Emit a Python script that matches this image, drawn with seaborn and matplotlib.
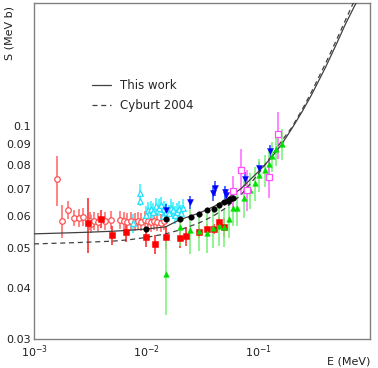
import matplotlib
matplotlib.use('Agg')
import matplotlib.pyplot as plt
import matplotlib.ticker as mticker
import numpy as np
import seaborn as sns

# curves
e_curve = [0.001, 0.002, 0.003, 0.005, 0.007, 0.01, 0.015, 0.02, 0.03, 0.04, 0.05,
           0.07, 0.1, 0.13, 0.16, 0.2, 0.25, 0.3, 0.4, 0.5, 0.6, 0.75, 0.8]
s_this_work = [0.0543, 0.0546, 0.0548, 0.0551, 0.0554, 0.0558, 0.0565, 0.0588, 0.0611,
               0.0633, 0.0655, 0.0700, 0.0770, 0.0832, 0.0895, 0.0983, 0.1088, 0.1190,
               0.139, 0.1584, 0.1770, 0.200, 0.210]
s_cyburt = [0.0513, 0.0516, 0.0518, 0.0521, 0.0525, 0.0532, 0.0543, 0.0555, 0.0578,
            0.0601, 0.0625, 0.0675, 0.0760, 0.0838, 0.0912, 0.0990, 0.110, 0.121,
            0.142, 0.162, 0.181, 0.207, 0.215]

# red open circles
e_oc = [0.00162, 0.00178, 0.00202, 0.00228, 0.00252, 0.00276, 0.00315, 0.0032, 0.00345,
        0.0037, 0.0043, 0.0049, 0.0058, 0.0064, 0.0068, 0.0074, 0.0079, 0.0085, 0.0091,
        0.0097, 0.0104, 0.011, 0.0117, 0.0125, 0.0135, 0.0146]
s_oc = [0.074, 0.0585, 0.0622, 0.0594, 0.0594, 0.0597, 0.0585, 0.0575, 0.0585, 0.0582,
        0.0585, 0.0588, 0.0588, 0.0585, 0.0582, 0.0585, 0.0582, 0.0585, 0.0582, 0.0588,
        0.0585, 0.058, 0.0585, 0.0582, 0.0578, 0.0585]
err_oc = [0.0105, 0.0055, 0.003, 0.0027, 0.003, 0.003, 0.003, 0.0028, 0.003, 0.003,
          0.003, 0.003, 0.003, 0.003, 0.003, 0.003, 0.003, 0.003, 0.003, 0.003, 0.003,
          0.003, 0.003, 0.003, 0.003, 0.003]

# red filled squares
e_sq = [0.00302, 0.00399, 0.005, 0.00662, 0.01, 0.012, 0.015, 0.02, 0.0226, 0.0298,
        0.0349, 0.0401, 0.0447, 0.05]
s_sq = [0.0576, 0.0591, 0.0539, 0.0548, 0.0533, 0.0512, 0.0534, 0.0531, 0.0536, 0.055,
        0.0558, 0.0559, 0.0581, 0.0563]
err_sq = [0.009, 0.003, 0.0028, 0.0028, 0.0028, 0.0028, 0.0035, 0.003, 0.0028, 0.002,
          0.0015, 0.0015, 0.0015, 0.003]

# cyan open triangles
e_cy = [0.0077, 0.0088, 0.0088, 0.0100, 0.0104, 0.0110, 0.0116, 0.0122, 0.0130, 0.0137,
        0.0142, 0.0146, 0.0152, 0.0160, 0.0168, 0.0175, 0.0182, 0.0190, 0.0198, 0.0206,
        0.0215]
s_cy = [0.0577, 0.0685, 0.0655, 0.0605, 0.0620, 0.0625, 0.0615, 0.0635, 0.0630, 0.0640,
        0.0600, 0.0625, 0.0615, 0.0610, 0.0630, 0.0620, 0.0605, 0.0615, 0.0625, 0.0610,
        0.0630]
err_cy = [0.003, 0.0035, 0.002, 0.003, 0.003, 0.003, 0.003, 0.003, 0.003, 0.003, 0.003,
          0.003, 0.003, 0.003, 0.003, 0.003, 0.003, 0.003, 0.003, 0.003, 0.003]

# black filled circles
e_bk = [0.0100, 0.015, 0.020, 0.0252, 0.0298, 0.0349, 0.0401, 0.0447, 0.0500, 0.0535,
        0.0566, 0.0595]
s_bk = [0.0558, 0.0592, 0.0592, 0.0597, 0.0606, 0.0621, 0.0624, 0.0640, 0.0649, 0.0654,
        0.0660, 0.0666]

# blue down triangles
e_bl = [0.015, 0.0248, 0.040, 0.041, 0.0508, 0.052, 0.0768, 0.102, 0.128]
s_bl = [0.0621, 0.0649, 0.0683, 0.0702, 0.0686, 0.0675, 0.0742, 0.0786, 0.0866]
err_bl = [0.002, 0.0025, 0.003, 0.003, 0.0025, 0.0025, 0.003, 0.003, 0.003]

# green triangles
e_gr = [0.015, 0.020, 0.0245, 0.0298, 0.0349, 0.040, 0.0447, 0.050, 0.0549, 0.0595,
        0.065, 0.0745, 0.0843, 0.0936, 0.103, 0.115, 0.124, 0.134, 0.144, 0.163]
s_gr = [0.0433, 0.0566, 0.0555, 0.0553, 0.0546, 0.0562, 0.0567, 0.0565, 0.0591, 0.0629,
        0.0629, 0.0664, 0.0695, 0.0722, 0.0758, 0.0777, 0.0804, 0.0841, 0.0878, 0.0902]
err_gr = [0.009, 0.006, 0.007, 0.006, 0.006, 0.006, 0.006, 0.006, 0.006, 0.006, 0.006,
          0.007, 0.007, 0.007, 0.007, 0.007, 0.007, 0.007, 0.008, 0.008]

# magenta open squares
e_mg = [0.0603, 0.0705, 0.0796, 0.125, 0.150]
s_mg = [0.0692, 0.0777, 0.0697, 0.0749, 0.0953]
err_mg = [0.006, 0.010, 0.008, 0.0085, 0.0125]

sns.set_style('white')
plt.rcParams['font.family'] = ['DejaVu Sans']

fig = plt.figure(figsize=(3.78, 3.68), dpi=100)
ax = fig.add_axes([0.090, 0.079, 0.889, 0.913])
ax.set_xscale('log')
ax.set_yscale('log')


def errs(e, s, err, color, lw=1.2):
    ax.errorbar(e, s, yerr=err, fmt='none', ecolor=color, elinewidth=lw, capsize=0, zorder=2)


errs(e_oc, s_oc, err_oc, '#ff7070')
errs(e_sq, s_sq, err_sq, '#ff3030')
errs(e_cy, s_cy, err_cy, '#40f0ff')
errs(e_bl, s_bl, err_bl, '#3050ff')
errs(e_gr, s_gr, err_gr, '#80f080')
errs(e_mg, s_mg, err_mg, '#ff70ff')

sns.lineplot(x=e_curve, y=s_this_work, ax=ax, color='#404040', lw=0.9, zorder=3,
             label='This work')
sns.lineplot(x=e_curve, y=s_cyburt, ax=ax, color='#404040', lw=0.9, ls=(0, (4, 3)),
             zorder=3, label='Cyburt 2004')

sns.scatterplot(x=e_oc, y=s_oc, ax=ax, marker='o', s=16, facecolor='white',
                edgecolor='#ff5050', linewidth=0.9, zorder=4)
sns.scatterplot(x=e_sq, y=s_sq, ax=ax, marker='s', s=22, color='#ff0000',
                edgecolor='#ff0000', zorder=4)
sns.scatterplot(x=e_cy, y=s_cy, ax=ax, marker='^', s=16, facecolor='white',
                edgecolor='#20e0ff', linewidth=0.9, zorder=4)
sns.scatterplot(x=e_bk, y=s_bk, ax=ax, marker='o', s=16, color='black',
                edgecolor='black', zorder=5)
sns.scatterplot(x=e_bl, y=s_bl, ax=ax, marker='v', s=18, color='#0000ff',
                edgecolor='#0000ff', zorder=4)
sns.scatterplot(x=e_gr, y=s_gr, ax=ax, marker='^', s=16, color='#00e000',
                edgecolor='#00e000', zorder=4)
sns.scatterplot(x=e_mg, y=s_mg, ax=ax, marker='s', s=22, facecolor='white',
                edgecolor='#ff50ff', linewidth=0.9, zorder=4)

ax.set_xlim(1e-3, 1.0)
ax.set_ylim(0.03, 0.2)

yt = [0.03, 0.04, 0.05, 0.06, 0.07, 0.08, 0.09, 0.1]
ax.yaxis.set_major_locator(mticker.FixedLocator(yt))
ax.yaxis.set_major_formatter(mticker.FixedFormatter(['0.03', '0.04', '0.05', '0.06',
                                                     '0.07', '0.08', '0.09', '0.1']))
ax.yaxis.set_minor_locator(mticker.NullLocator())
ax.xaxis.set_major_locator(mticker.FixedLocator([1e-3, 1e-2, 1e-1]))
ax.xaxis.set_major_formatter(mticker.FixedFormatter([r'$10^{-3}$', r'$10^{-2}$',
                                                     r'$10^{-1}$']))
ax.xaxis.set_minor_locator(mticker.LogLocator(base=10, subs=np.arange(2, 10)))
ax.xaxis.set_minor_formatter(mticker.NullFormatter())
ax.tick_params(axis='both', which='both', direction='in', color='#808080',
               labelsize=8, labelcolor='#202020')
ax.tick_params(axis='x', which='major', length=7, pad=3)
ax.tick_params(axis='x', which='minor', length=4)
ax.tick_params(axis='y', which='major', length=4, pad=2)
ax.tick_params(top=False, right=False)

for sp in ax.spines.values():
    sp.set_color('#808080')
    sp.set_linewidth(1.0)

ax.set_xlabel('')
ax.set_ylabel('')
fig.text(0.979, 0.005, 'E (MeV)', ha='right', va='bottom', fontsize=8, color='#202020')
fig.text(0.012, 0.985, 'S (MeV b)', ha='left', va='top', rotation=90, fontsize=8,
         color='#202020')

ax.legend(loc='upper left', bbox_to_anchor=(0.14, 0.805), frameon=False, fontsize=8.5,
          handlelength=1.6, labelspacing=0.6)

fig.savefig('out.png', dpi=100)
